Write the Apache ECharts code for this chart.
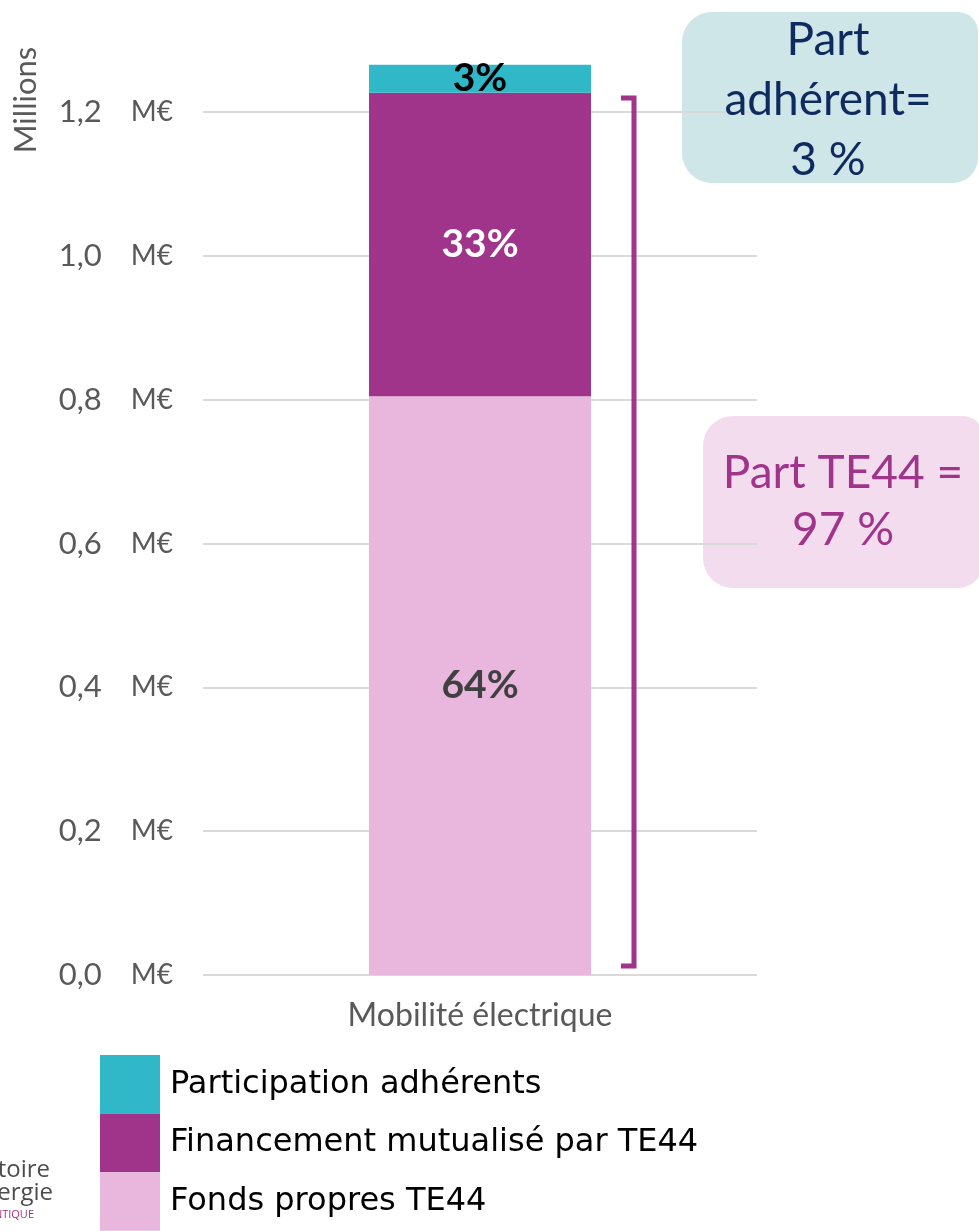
<!DOCTYPE html>
<html>
<head>
<meta charset="utf-8">
<script src="https://cdn.jsdelivr.net/npm/echarts@6/dist/echarts.min.js"></script>
<style>
  html, body { margin: 0; padding: 0; background: #fff; }
  #chart { width: 979px; height: 1231px; }
</style>
</head>
<body>
<div id="chart"></div>
<script>
// données (millions d'euros)
var categories = ['Mobilité électrique'];
var seriesNames = ['Participation adhérents', 'Financement mutualisé par TE44', 'Fonds propres TE44'];
var fondsPropres = [0.805];
var financementMutualise = [0.422];
var participationAdherents = [0.039];
var yMin = 0, yMax = 1.3, yStep = 0.2;

var total = fondsPropres[0] + financementMutualise[0] + participationAdherents[0];
function pct(p) { return Math.round(p.value / total * 100) + '%'; }

var grey = '#595959';
var purple = '#A0338A';
// la ligne du max (1,3) n'est pas tracée
var gridColors = ['#D9D9D9', '#D9D9D9', '#D9D9D9', '#D9D9D9', '#D9D9D9', '#D9D9D9', '#D9D9D9', 'rgba(0,0,0,0)'];

var barLabel = { show: true, position: 'inside', formatter: pct, fontFamily: 'Lato', fontSize: 39, fontWeight: 'bold' };

var chart = echarts.init(document.getElementById('chart'));
var option = {
    animation: false,
    textStyle: { fontFamily: 'Lato' },
    grid: { left: 203, right: 222, top: 40.3, bottom: 256 },
    legend: {
        orient: 'vertical',
        left: 100,
        top: 1055,
        padding: 0,
        itemWidth: 60,
        itemHeight: 58.6,
        itemGap: 0,
        icon: 'rect',
        data: seriesNames,
        textStyle: { fontFamily: 'DejaVu Sans', fontSize: 32, color: '#000', padding: [4, 0, 0, 5] }
    },
    xAxis: {
        type: 'category',
        data: categories,
        axisLine: { show: false },
        axisTick: { show: false },
        axisLabel: { color: grey, fontSize: 32, margin: 25 }
    },
    yAxis: {
        type: 'value',
        min: yMin,
        max: yMax,
        interval: yStep,
        axisLine: { show: false },
        axisTick: { show: false },
        splitLine: { lineStyle: { color: gridColors, width: 2 } },
        axisLabel: {
            margin: 30,
            showMaxLabel: false,
            formatter: function (v) {
                return '{n|' + v.toFixed(1).replace('.', ',') + '}{u|M€}';
            },
            rich: {
                n: { fontSize: 31, color: grey },
                u: { fontSize: 28, color: grey, padding: [0, 0, 0, 29] }
            }
        }
    },
    series: [
        {
            name: 'Fonds propres TE44',
            type: 'bar',
            stack: 'total',
            barWidth: 222,
            data: fondsPropres,
            itemStyle: { color: '#E9B6DE' },
            label: Object.assign({ color: '#404040' }, barLabel)
        },
        {
            name: 'Financement mutualisé par TE44',
            type: 'bar',
            stack: 'total',
            data: financementMutualise,
            itemStyle: { color: purple },
            label: Object.assign({ color: '#fff' }, barLabel)
        },
        {
            name: 'Participation adhérents',
            type: 'bar',
            stack: 'total',
            data: participationAdherents,
            itemStyle: { color: '#31B8C8' },
            label: Object.assign({ color: '#000' }, barLabel)
        }
    ],
    graphic: [
        { type: 'text', x: 26, y: 100, rotation: Math.PI / 2, style: { text: 'Millions', fontSize: 31, fill: grey, fontFamily: 'Lato', align: 'center', verticalAlign: 'middle' } },
        // accolade
        { type: 'polyline', z: 5, shape: { points: [[621, 98], [634, 98], [634, 966], [621, 966]] }, style: { stroke: purple, lineWidth: 5, fill: null } },
        // encadrés
        { type: 'rect', z: -1, shape: { x: 682, y: 12, width: 296, height: 171, r: [30, 20, 25, 30] }, style: { fill: '#CFE6E9' } },
        { type: 'text', z: 10, x: 828, y: 100, style: { text: 'Part\nadhérent=\n3 %', fontSize: 46, lineHeight: 60, fill: '#0E2A5E', fontFamily: 'Lato', align: 'center', verticalAlign: 'middle' } },
        { type: 'rect', z: -1, shape: { x: 703, y: 416, width: 280, height: 172, r: [30, 20, 25, 30] }, style: { fill: '#F3DCEE' } },
        { type: 'text', z: 10, x: 843, y: 502, style: { text: 'Part TE44 =\n97 %', fontSize: 46, lineHeight: 57, fill: purple, fontFamily: 'Lato', align: 'center', verticalAlign: 'middle' } },
        // logo coupé
        { type: 'text', x: 50, y: 1170, style: { text: 'toire', fontSize: 24, fill: '#4D4D4D', fontFamily: 'Open Sans', align: 'right', verticalAlign: 'middle' } },
        { type: 'text', x: 53, y: 1193, style: { text: 'ergie', fontSize: 24, fill: '#4D4D4D', fontFamily: 'Open Sans', align: 'right', verticalAlign: 'middle' } },
        { type: 'text', x: 34, y: 1215, style: { text: 'NTIQUE', fontSize: 11, fill: purple, fontFamily: 'Open Sans', align: 'right', verticalAlign: 'middle' } }
    ]
};
chart.setOption(option);
</script>
</body>
</html>
